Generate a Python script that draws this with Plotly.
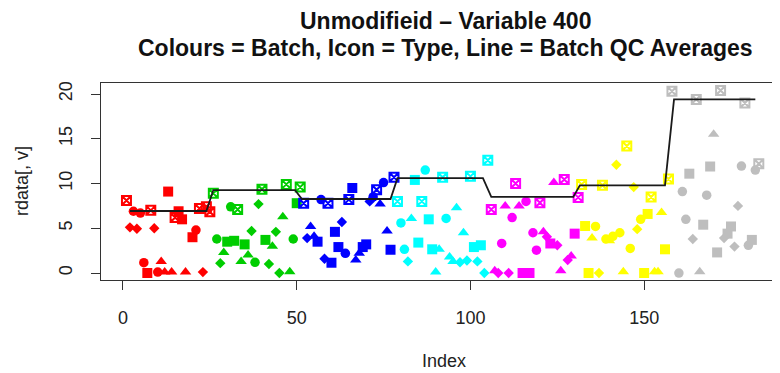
import plotly.graph_objects as go

# ---------------- data ----------------
# type codes: c=circle, t=triangle, s=square, d=diamond, q=QC (square with x)
red_idx = [1, 2, 3, 4, 5, 6, 7, 8, 9, 10, 11, 12, 13, 14, 15, 16, 17, 18, 20, 21, 22, 23, 24, 25]
red_val = [8.1, 5.1, 6.9, 4.95, 6.7, 1.15, 0.0, 7.0, 5.0, 0.1, 1.3, 0.1, 9.1, 0.1, 6.2, 6.9, 6.0, 0.1, 4.0, 4.8, 7.2, 0.1, 7.4, 6.85]
red_typ = ["q", "d", "c", "d", "c", "c", "s", "q", "d", "c", "t", "t", "s", "t", "q", "s", "s", "t", "s", "c", "q", "d", "q", "q"]

green_idx = list(range(26, 52))
green_val = [8.9, 3.8, 1.1, 2.3, 3.5, 7.4, 3.6, 7.1, 1.3, 3.2, 2.0, 4.7, 1.2, 7.7, 9.35, 3.7, 1.0, 3.0, 4.6, 0.0, 6.3, 9.9, 0.15, 3.8, 7.8, 9.6]
green_typ = ["q", "c", "d", "t", "s", "c", "s", "q", "t", "s", "t", "d", "c", "d", "q", "s", "d", "t", "d", "d", "t", "q", "t", "c", "s", "q"]

blue_idx = list(range(52, 79))
blue_val = [7.8, 3.9, 5.2, 4.1, 3.5, 8.2, 1.6, 7.8, 1.15, 4.6, 2.9, 5.7, 2.2, 8.2, 9.5, 1.45, 2.2, 2.9, 3.2, 8.0, 8.5, 9.3, 7.7, 10.1, 4.7, 2.6, 10.7]
blue_typ = ["q", "d", "t", "t", "s", "c", "d", "q", "s", "s", "s", "d", "c", "q", "s", "t", "t", "s", "s", "d", "c", "q", "t", "c", "t", "s", "q"]

cyan_idx = list(range(79, 106))
cyan_val = [8.0, 5.6, 2.65, 1.3, 6.1, 10.4, 3.4, 8.0, 11.5, 6.0, 2.65, 0.1, 2.65, 10.7, 6.1, 1.8, 1.3, 7.3, 1.2, 4.5, 1.4, 10.8, 2.9, 1.3, 3.1, 0.0, 12.6]
cyan_typ = ["q", "c", "c", "d", "t", "s", "s", "q", "c", "s", "s", "t", "t", "q", "c", "t", "t", "t", "d", "t", "d", "q", "s", "d", "s", "d", "q"]

magenta_idx = list(range(106, 132))
magenta_val = [7.1, 0.25, 0.0, 3.3, 7.5, 0.0, 6.2, 10.0, 7.5, 0.0, 8.0, 0.0, 4.5, 2.55, 7.85, 4.6, 4.05, 3.3, 10.1, 3.1, 0.25, 10.45, 1.45, 1.9, 4.4, 8.45]
magenta_typ = ["q", "t", "d", "c", "t", "d", "c", "q", "t", "s", "c", "s", "c", "c", "q", "t", "d", "s", "t", "d", "t", "q", "d", "t", "s", "q"]

yellow_idx = list(range(132, 158))
yellow_val = [9.9, 5.25, 0.0, 3.9, 5.2, 0.0, 9.8, 3.8, 3.6, 4.1, 12.1, 4.5, 0.15, 14.2, 2.75, 9.6, 4.9, 6.0, 0.0, 6.6, 8.5, 0.15, 0.15, 6.75, 2.65, 10.5]
yellow_typ = ["q", "s", "s", "t", "c", "d", "q", "c", "t", "c", "d", "c", "t", "q", "c", "d", "d", "c", "s", "s", "q", "t", "t", "t", "s", "q"]

gray_idx = [158, 160, 161, 162, 163, 164, 165, 166, 167, 168, 169, 170, 171, 172, 173, 174, 175, 176, 177, 178, 179, 180, 181, 182, 183]
gray_val = [20.3, 0.0, 9.1, 6.0, 11.1, 3.8, 19.4, 0.15, 5.4, 8.7, 11.9, 15.5, 2.3, 20.4, 3.9, 4.4, 5.2, 2.95, 7.5, 11.95, 19.0, 3.1, 3.7, 11.5, 12.2]
gray_typ = ["q", "c", "c", "c", "s", "d", "q", "t", "s", "c", "s", "t", "s", "q", "d", "s", "s", "d", "d", "c", "q", "c", "s", "c", "q"]

batch_colors = ["#FF0000", "#00CD00", "#0000FF", "#00FFFF", "#FF00FF", "#FFFF00", "#BEBEBE"]

# Batch QC averages and the index span the average line covers
qc_avg = [6.93, 9.27, 8.27, 10.6, 8.5, 9.8, 19.4]
line_start = [2, 26, 51.5, 79, 106, 131.5, 158.6]
line_end = [24, 49.5, 77, 103.6, 129.6, 156, 182]

x_ticks = [0, 50, 100, 150]
y_ticks = [0, 5, 10, 15, 20]

# ---------------- figure ----------------
batches = [
    (red_idx, red_val, red_typ),
    (green_idx, green_val, green_typ),
    (blue_idx, blue_val, blue_typ),
    (cyan_idx, cyan_val, cyan_typ),
    (magenta_idx, magenta_val, magenta_typ),
    (yellow_idx, yellow_val, yellow_typ),
    (gray_idx, gray_val, gray_typ),
]

sym_map = {"c": "circle", "t": "triangle-up", "s": "square", "d": "diamond"}
size_map = {"c": 9.5, "t": 10, "s": 10, "d": 8}

fx, fy, fs, fz, fc = [], [], [], [], []
qx, qy, qc = [], [], []
for (idx, val, typ), col in zip(batches, batch_colors):
    for i, v, t in zip(idx, val, typ):
        if t == "q":
            qx.append(i); qy.append(v); qc.append(col)
        else:
            fx.append(i); fy.append(v); fs.append(sym_map[t]); fz.append(size_map[t]); fc.append(col)

fig = go.Figure()
fig.add_trace(go.Scatter(
    x=fx, y=fy, mode="markers", hoverinfo="skip",
    marker=dict(symbol=fs, size=fz, color=fc, opacity=1, line=dict(width=0)),
))
fig.add_trace(go.Scatter(
    x=qx, y=qy, mode="markers", hoverinfo="skip",
    marker=dict(symbol="square-x-open", size=9, color=qc, opacity=1, line=dict(width=2)),
))

lx, ly = [], []
for s, e, a in zip(line_start, line_end, qc_avg):
    lx += [s, e]
    ly += [a, a]
fig.add_trace(go.Scatter(x=lx, y=ly, mode="lines", hoverinfo="skip",
                         line=dict(color="#1a1a1a", width=1.8)))

# page has an 8px body margin: work in page pixels and convert
OFF = 8
W, H = 780 - OFF, 373 - OFF
PL, PR, PT, PB = 101, 780, 83, 280          # plot frame in page pixels
L, T = PL - OFF, PT - OFF
R = (780 - PR)
B = H - (PB - OFF)
font = "Liberation Sans, Arial, Helvetica, sans-serif"
axcol = "#333333"

fig.update_layout(
    width=W, height=H, showlegend=False,
    margin=dict(l=L, r=R, t=T, b=B, pad=0),
    paper_bgcolor="white", plot_bgcolor="white",
    font=dict(family=font, size=18, color="#222222"),
    xaxis=dict(range=[-6.33, 189.1], tickvals=x_ticks, ticks="outside", ticklen=9,
               tickwidth=1.3, tickcolor=axcol, showline=True, mirror=True,
               linecolor=axcol, linewidth=1.3, showgrid=False, zeroline=False,
               tickfont=dict(size=18), ticklabelstandoff=12),
    yaxis=dict(range=[-0.78, 21.23], tickvals=y_ticks, ticks="outside", ticklen=9,
               tickwidth=1.3, tickcolor=axcol, showline=True, mirror=False,
               linecolor=axcol, linewidth=1.3, showgrid=False, zeroline=False,
               tickangle=-90, tickfont=dict(size=18), ticklabelstandoff=12),
)

pw = W - L - R
ph = H - T - B
def px2x(p):
    return (p - OFF - L) / pw
def py2y(p):
    return (H - B - (p - OFF)) / ph

fig.add_annotation(text="<b>Unmodifieid \u2013 Variable 400</b>", xref="paper", yref="paper",
                   x=px2x(445), y=py2y(21), showarrow=False, xanchor="center", yanchor="middle",
                   font=dict(size=23, color="#111111"))
fig.add_annotation(text="<b>Colours = Batch, Icon = Type, Line = Batch QC Averages</b>",
                   xref="paper", yref="paper", x=px2x(445), y=py2y(48), showarrow=False,
                   xanchor="center", yanchor="middle", font=dict(size=23, color="#111111"))
fig.add_annotation(text="Index", xref="paper", yref="paper", x=px2x(444), y=py2y(361),
                   showarrow=False, xanchor="center", yanchor="middle", font=dict(size=18))
fig.add_annotation(text="rdata[, v]", xref="paper", yref="paper", x=px2x(22), y=py2y(181),
                   showarrow=False, xanchor="center", yanchor="middle", textangle=-90,
                   font=dict(size=18))

fig.write_html("out.html")
